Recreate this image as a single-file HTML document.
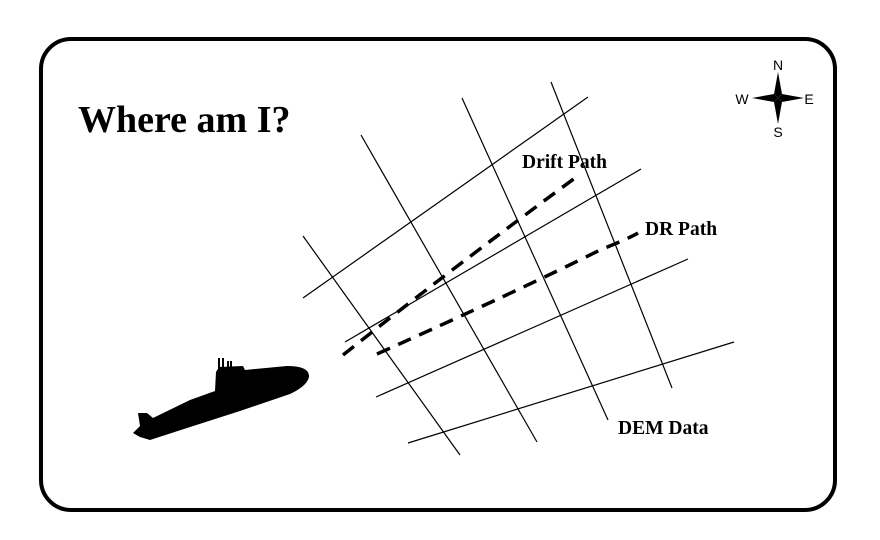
<!DOCTYPE html>
<html><head><style>body{margin:0;background:#fff}svg{display:block}</style></head><body>
<svg width="880" height="540" viewBox="0 0 880 540" xmlns="http://www.w3.org/2000/svg">
<rect x="41" y="39" width="794" height="471" rx="30" fill="#fff" stroke="#000" stroke-width="4"/>
<text x="78" y="132" font-family="Liberation Serif, serif" font-weight="bold" font-size="38">Where am I?</text>
<g stroke="#000" stroke-width="1.2">
<line x1="303" y1="298" x2="588" y2="97"/>
<line x1="345" y1="342" x2="641" y2="169"/>
<line x1="376" y1="397" x2="688" y2="259"/>
<line x1="408" y1="443" x2="734" y2="342"/>
<line x1="303" y1="236" x2="460" y2="455"/>
<line x1="361" y1="135" x2="537" y2="442"/>
<line x1="462" y1="98" x2="608" y2="420"/>
<line x1="551" y1="82" x2="672" y2="388"/>
</g>
<g fill="none" stroke="#000" stroke-width="3.5" stroke-dasharray="14,9">
<path d="M343,355 Q450,270 575,178"/>
<path d="M377,354 Q520,290 600,250 Q630,238 638,233"/>
</g>
<g font-family="Liberation Serif, serif" font-weight="bold" font-size="19.5">
<text x="522" y="168">Drift Path</text>
<text x="645" y="235">DR Path</text>
<text x="618" y="434">DEM Data</text>
</g>
<path d="M287,366 Q310,366 309,377 Q307,386 290,394 L240,411 L187,428 L150,440 L140,437 L133,433 L140,426 L138,413 L147,413 L153,418 L190,400 L215,391 L216,372 L219,367 L243,366 L245,370 L255,369 Z" fill="#000"/>
<g stroke="#000" stroke-width="2">
<line x1="219" y1="370" x2="219" y2="358"/><line x1="223" y1="370" x2="223" y2="358"/>
<line x1="228" y1="370" x2="228" y2="361"/><line x1="231" y1="370" x2="231" y2="361"/>
</g>
<g fill="#000">
<polygon points="778,72 782,94 778,98 774,94"/>
<polygon points="778,124 782,102 778,98 774,102"/>
<polygon points="752,98 774,94 778,98 774,102"/>
<polygon points="804,98 782,94 778,98 782,102"/>
</g>
<g font-family="Liberation Sans, sans-serif" font-size="14" text-anchor="middle">
<text x="778" y="70">N</text><text x="778" y="137">S</text>
<text x="742" y="104">W</text><text x="809" y="104">E</text>
</g>
</svg>
</body></html>
